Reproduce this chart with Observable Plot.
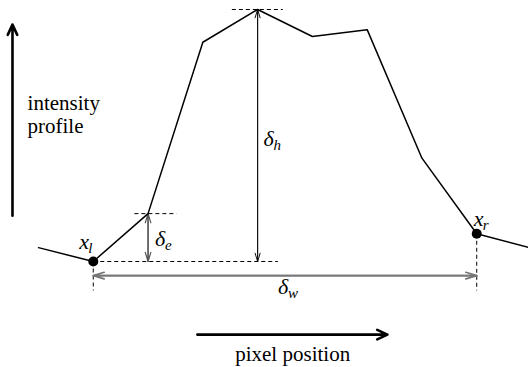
<!DOCTYPE html>
<html>
<head>
<meta charset="utf-8">
<script src="https://cdn.jsdelivr.net/npm/d3@7"></script>
<script src="https://cdn.jsdelivr.net/npm/@observablehq/plot@0.6"></script>
<style>
  body { margin: 0; background: #fff; }
  svg { display: block; }
</style>
</head>
<body>
<div id="chart"></div>
<script>
// Intensity profile sampled at successive pixel positions
const positions = [0, 1, 2, 3, 4, 5, 6, 7, 8, 9];
const intensity = [1.55, 1.0, 2.9, 9.7, 11.0, 9.93, 10.2, 5.1, 2.1, 1.53];

// Which samples the measurements refer to
const leftIndex = 1;   // x_l
const edgeIndex = 2;   // top of the first step (δe)
const peakIndex = 4;   // maximum (δh)
const rightIndex = 8;  // x_r

// Text
const yAxisLabel = "intensity\nprofile";
const xAxisLabel = "pixel position";

const profile = positions.map((x, i) => ({x, y: intensity[i]}));
const xl = profile[leftIndex];
const xr = profile[rightIndex];
const edge = profile[edgeIndex];
const peak = profile[peakIndex];
const base = xl.y;

// Layout of the annotation guides, in data units
const widthLevel = 0.44;     // height of the δw arrow
const guideBottom = -0.15;   // lower end of the vertical dashed guides
const axisX = -0.475;        // vertical axis arrow position
const axisY = -1.9;          // horizontal axis arrow position

const font = "Liberation Serif";

// Double-headed arrows are drawn as two overlapping one-headed arrows
function both(a) {
  return [a, {x1: a.x2, y1: a.y2, x2: a.x1, y2: a.y1}];
}

const dashed = [
  {x1: peak.x - 0.47, x2: peak.x + 0.46, y1: peak.y, y2: peak.y},
  {x1: edge.x - 0.25, x2: edge.x + 0.52, y1: edge.y, y2: edge.y},
  {x1: xl.x, x2: peak.x + 0.37, y1: base, y2: base},
  {x1: xl.x, x2: xl.x, y1: base, y2: guideBottom},
  {x1: xr.x, x2: xr.x, y1: xr.y, y2: guideBottom}
];

const symbols = [
  {main: "δ", sub: "h", x: peak.x, y: (base + peak.y) / 2, dx: 6, dy: 10},
  {main: "δ", sub: "e", x: edge.x, y: (base + edge.y) / 2, dx: 7, dy: 8},
  {main: "δ", sub: "w", x: (xl.x + xr.x) / 2, y: widthLevel, dx: -7, dy: 18},
  {main: "x", sub: "l", x: xl.x, y: xl.y, dx: -14, dy: -13},
  {main: "x", sub: "r", x: xr.x, y: xr.y, dx: -3, dy: -8}
];

const chart = Plot.plot({
  width: 528,
  height: 367,
  margin: 0,
  x: {domain: [0, 9], range: [38, 531], axis: null},
  y: {domain: [1, 11], range: [261, 9], axis: null},
  style: {background: "#fff", overflow: "hidden", fontFamily: font},
  marks: [
    // axis arrows
    Plot.arrow([{x1: axisX, y1: 2.82, x2: axisX, y2: 10.4}], {
      x1: "x1", y1: "y1", x2: "x2", y2: "y2",
      stroke: "#000", strokeWidth: 2.6, headLength: 6.5, headAngle: 50
    }),
    Plot.arrow([{x1: 2.9, y1: axisY, x2: 6.37, y2: axisY}], {
      x1: "x1", y1: "y1", x2: "x2", y2: "y2",
      stroke: "#000", strokeWidth: 2.6, headLength: 6.5, headAngle: 50
    }),
    // dashed guides
    Plot.link(dashed, {
      x1: "x1", y1: "y1", x2: "x2", y2: "y2",
      stroke: "#000", strokeWidth: 1, strokeDasharray: "4,3"
    }),
    // measurement arrows
    Plot.arrow(both({x1: peak.x, y1: base, x2: peak.x, y2: peak.y}), {
      x1: "x1", y1: "y1", x2: "x2", y2: "y2",
      stroke: "#111", strokeWidth: 1, headLength: 13, headAngle: 34
    }),
    Plot.arrow(both({x1: edge.x, y1: base, x2: edge.x, y2: edge.y}), {
      x1: "x1", y1: "y1", x2: "x2", y2: "y2",
      stroke: "#555", strokeWidth: 1.2, headLength: 12, headAngle: 34
    }),
    Plot.arrow(both({x1: xl.x, y1: widthLevel, x2: xr.x, y2: widthLevel}), {
      x1: "x1", y1: "y1", x2: "x2", y2: "y2",
      stroke: "#777", strokeWidth: 1.7, headLength: 10, headAngle: 34
    }),
    // the profile
    Plot.line(profile, {x: "x", y: "y", stroke: "#000", strokeWidth: 1.5}),
    Plot.dot([xl, xr], {x: "x", y: "y", r: 5, fill: "#000"}),
    // symbols with subscripts
    ...symbols.map(s => Plot.text([s], {
      x: "x", y: "y", text: "main", dx: s.dx, dy: s.dy,
      textAnchor: "start", lineAnchor: "bottom",
      fontFamily: font, fontStyle: "italic", fontSize: 22, fill: "#000"
    })),
    ...symbols.map(s => Plot.text([s], {
      x: "x", y: "y", text: "sub", dx: s.dx + (s.main === "δ" ? 10 : 9), dy: s.dy + 4,
      textAnchor: "start", lineAnchor: "bottom",
      fontFamily: font, fontStyle: "italic", fontSize: 15, fill: "#000"
    })),
    // axis titles
    Plot.text([yAxisLabel], {
      x: -0.2, y: 6.08, text: d => d, textAnchor: "start", lineAnchor: "bottom",
      lineHeight: 1.1, fontFamily: font, fontSize: 21, fill: "#000"
    }),
    Plot.text([xAxisLabel], {
      x: 4.64, y: -2.93, text: d => d, textAnchor: "middle", lineAnchor: "bottom",
      fontFamily: font, fontSize: 21, fill: "#000"
    })
  ]
});

document.getElementById("chart").append(chart);
</script>
</body>
</html>
